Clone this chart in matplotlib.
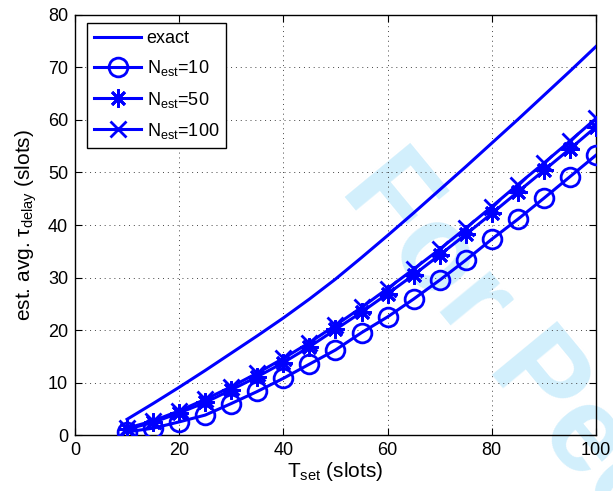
import matplotlib
matplotlib.use("Agg")
import matplotlib.pyplot as plt

plt.rcParams['font.family'] = ['Liberation Sans', 'DejaVu Sans']
plt.rcParams['mathtext.fontset'] = 'custom'
plt.rcParams['mathtext.rm'] = 'Liberation Sans'
plt.rcParams['mathtext.it'] = 'Liberation Sans:italic'

# Set-point delay values (slots)
t_set = [10, 15, 20, 25, 30, 35, 40, 45, 50, 55, 60, 65, 70, 75, 80, 85, 90, 95, 100]

# Exact average delay
exact = [3.0, 6.0, 9.1, 12.3, 15.6, 18.9, 22.3, 25.9, 29.7, 33.8,
         38.0, 42.3, 46.7, 51.1, 55.6, 60.1, 64.7, 69.3, 74.0]

# Estimated average delay for different estimation windows
est_10 = [0.6, 1.3, 2.5, 3.8, 6.0, 8.3, 10.8, 13.5, 16.2, 19.5,
          22.5, 25.9, 29.5, 33.3, 37.3, 41.1, 45.1, 49.2, 53.3]
est_50 = [1.1, 2.4, 4.2, 6.2, 8.6, 11.1, 13.8, 16.8, 20.1, 23.4,
          26.9, 30.5, 34.3, 38.2, 42.2, 46.3, 50.4, 54.5, 58.7]
est_100 = [1.3, 2.7, 4.6, 6.8, 9.2, 11.8, 14.6, 17.6, 20.9, 24.3,
           27.9, 31.6, 35.4, 39.4, 43.5, 47.7, 51.8, 56.0, 60.3]

series_labels = ['exact', r'$\mathregular{N_{est}}$=10',
                 r'$\mathregular{N_{est}}$=50', r'$\mathregular{N_{est}}$=100']
x_ticks = [0, 20, 40, 60, 80, 100]
y_ticks = [0, 10, 20, 30, 40, 50, 60, 70, 80]

blue = '#0000ff'

fig = plt.figure(figsize=(6.13, 4.91), dpi=100)
ax = fig.add_axes([0.1223, 0.114, 0.850, 0.8555])
ax.set_facecolor('none')

# Background watermark
ax.text(0.553, 0.612, 'For Peer Review', transform=fig.transFigure,
        fontsize=88, fontweight='bold', color='#d2effc',
        rotation=-50.5, rotation_mode='anchor', ha='left', va='baseline',
        zorder=0.5, clip_on=False)

ax.plot(t_set, exact, color=blue, lw=2.2, label=series_labels[0], zorder=3)
ax.plot(t_set, est_10, color=blue, lw=2.2, marker='o', ms=13.5, mew=2.0,
        mfc='none', label=series_labels[1], zorder=3)
ax.plot(t_set, est_50, color=blue, lw=2.2, marker=(8, 2, 0), ms=13, mew=2.0,
        label=series_labels[2], zorder=3)
ax.plot(t_set, est_100, color=blue, lw=2.2, marker='x', ms=11.5, mew=2.0,
        label=series_labels[3], zorder=3)

ax.set_xlim(0, 100)
ax.set_ylim(0, 80)
ax.set_xticks(x_ticks)
ax.set_yticks(y_ticks)
ax.tick_params(direction='in', length=5, width=0.8, top=True, right=True,
               labelsize=13, pad=5)
ax.grid(True, color='#444444', linestyle=(0, (1, 4)), linewidth=0.7)
for s in ax.spines.values():
    s.set_linewidth(1.0)

ax.set_xlabel(r'$\mathregular{T_{set}}$ (slots)', fontsize=15, labelpad=1)
ax.set_ylabel(r'est. avg. $\mathregular{τ_{delay}}$ (slots)', fontsize=15,
              labelpad=6)

leg = ax.legend(loc='upper left', bbox_to_anchor=(0.023, 0.981),
                fontsize=13, frameon=True, fancybox=False,
                edgecolor='black', framealpha=1, handlelength=2.6,
                borderaxespad=0.0, labelspacing=0.62, handletextpad=0.3,
                borderpad=0.4)
leg.get_frame().set_linewidth(1.0)

fig.savefig('out.png', dpi=100)
